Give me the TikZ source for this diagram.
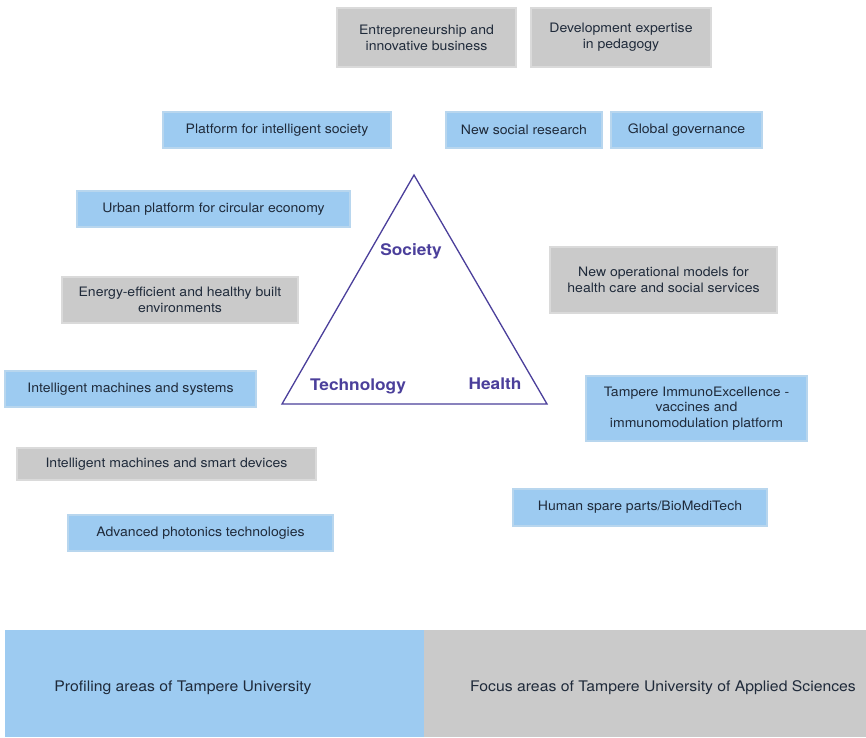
\documentclass[tikz,border=0pt]{standalone}
\usepackage{fontspec}
\setmainfont{TeX Gyre Heros}[FakeStretch=1.08]
\definecolor{boxblue}{HTML}{9DCBF1}
\definecolor{boxgray}{HTML}{CACACA}
\definecolor{bluebd}{HTML}{B8D6EE}
\definecolor{graybd}{HTML}{DADADA}
\definecolor{txt}{HTML}{1F2A3A}
\definecolor{tri}{HTML}{4B3F9B}
\tikzset{
  area/.style={draw, line width=1.2pt, text=txt, align=center, inner sep=2pt,
    font=\fontsize{13}{15.8}\selectfont},
  bluebox/.style={area, fill=boxblue, draw=bluebd},
  graybox/.style={area, fill=boxgray, draw=graybd},
  corner/.style={text=tri, font=\fontsize{16}{19}\selectfont\bfseries},
  band/.style={draw=none, text=txt, font=\fontsize{14.6}{17}\selectfont}
}
\begin{document}
\begin{tikzpicture}[x=1pt,y=-1pt]
\useasboundingbox (0,0) rectangle (866,737);
\fill[white] (0,0) rectangle (866,737);
% top gray boxes
\node[graybox, minimum width=179, minimum height=59] (entre) at (426.5,37.5) {Entrepreneurship and\\innovative business};
\node[graybox, minimum width=180, minimum height=59] (dev) at (621,37.5) {Development expertise\\in pedagogy};
% society row
\node[bluebox, minimum width=228, minimum height=36] (plat) at (277,130) {Platform for intelligent society};
\node[bluebox, minimum width=156, minimum height=36] (social) at (524,130) {New social research};
\node[bluebox, minimum width=151, minimum height=36] (glob) at (686.5,130) {Global governance};
% left side
\node[bluebox, minimum width=273, minimum height=36] (urban) at (213.5,209) {Urban platform for circular economy};
\node[graybox, minimum width=236, minimum height=46] (energy) at (180,300) {Energy-efficient and healthy built\\environments};
\node[bluebox, minimum width=251, minimum height=36] (ims) at (130.5,389) {Intelligent machines and systems};
\node[graybox, minimum width=299, minimum height=32] (imsd) at (166.5,464) {Intelligent machines and smart devices};
\node[bluebox, minimum width=265, minimum height=36] (photo) at (200.5,533) {Advanced photonics technologies};
% right side
\node[graybox, minimum width=227, minimum height=66] (oper) at (663.5,280) {New operational models for\\health care and social services};
\node[bluebox, minimum width=221, minimum height=65] (immuno) at (696.5,408.5) {Tampere ImmunoExcellence -\\vaccines and\\immunomodulation platform};
\node[bluebox, minimum width=254, minimum height=37] (spare) at (640,507.5) {Human spare parts/BioMediTech};
% triangle
\coordinate (apex) at (414,175);
\coordinate (bl) at (282,404);
\coordinate (br) at (547,404);
\draw[tri, line width=1.3pt, line join=miter] (apex) -- (bl) -- (br) -- cycle;
\node[corner] (soc) at (411,251) {Society};
\node[corner] (tech) at (358,386) {Technology};
\node[corner] (health) at (495,384) {Health};
% legend bands
\fill[boxblue] (5,630) rectangle (424,737);
\fill[boxgray] (424,630) rectangle (866,737);
\node[band] (leg1) at (183,688) {Profiling areas of Tampere University};
\node[band] (leg2) at (663,688) {Focus areas of Tampere University of Applied Sciences};
\end{tikzpicture}
\end{document}
